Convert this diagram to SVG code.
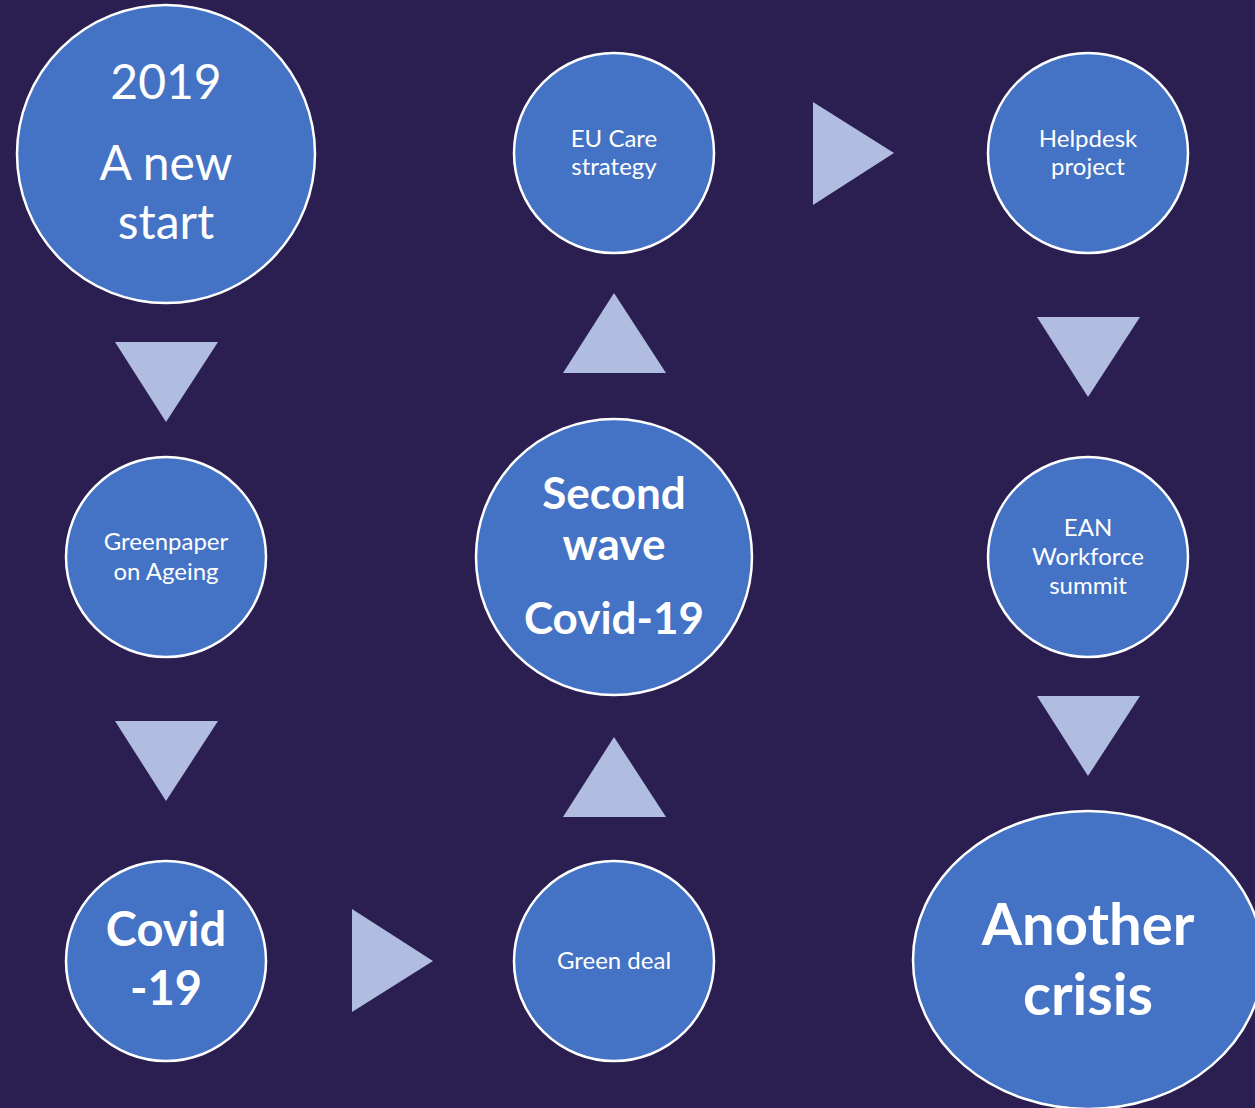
<svg xmlns="http://www.w3.org/2000/svg" width="1255" height="1108" viewBox="0 0 1255 1108">
<style>
.node{fill:#4472C4;stroke:#FFFFFF;stroke-width:2.5}
.arr{fill:#B0BDE0}
text{fill:#FFFFFF;font-family:Lato,"Open Sans","Liberation Sans",sans-serif;text-anchor:middle}
.s{font-size:24px}
.b{font-weight:bold}
</style>
<rect width="1255" height="1108" fill="#2B1E50"/>
<g id="connectors">
<polygon class="arr" points="115,342 218,342 166,422"/>
<polygon class="arr" points="115,721 218,721 166,801"/>
<polygon class="arr" points="352,909 352,1012 433,961"/>
<polygon class="arr" points="563,817 666,817 614,737"/>
<polygon class="arr" points="563,373 666,373 614,293"/>
<polygon class="arr" points="813,102 813,205 894,153"/>
<polygon class="arr" points="1037,317 1140,317 1088,397"/>
<polygon class="arr" points="1037,696 1140,696 1088,776"/>
</g>
<g id="n2019">
<circle class="node" cx="166" cy="154" r="149"/>
<text x="166" y="99" font-size="48">2019</text>
<text x="166" y="180" font-size="48">A new</text>
<text x="166" y="239" font-size="48">start</text>
</g>
<g id="greenpaper">
<circle class="node" cx="166" cy="557" r="100"/>
<text class="s" x="166" y="550">Greenpaper</text>
<text class="s" x="166" y="580">on Ageing</text>
</g>
<g id="covid">
<circle class="node" cx="166" cy="961" r="100"/>
<text class="b" x="166" y="946" font-size="47">Covid</text>
<text class="b" x="166" y="1005" font-size="47">-19</text>
</g>
<g id="greendeal">
<circle class="node" cx="614" cy="961" r="100"/>
<text class="s" x="614" y="969">Green deal</text>
</g>
<g id="secondwave">
<circle class="node" cx="614" cy="557" r="138"/>
<text class="b" x="614" y="509" font-size="44">Second</text>
<text class="b" x="614" y="560" font-size="44">wave</text>
<text class="b" x="614" y="634" font-size="44">Covid-19</text>
</g>
<g id="eucare">
<circle class="node" cx="614" cy="153" r="100"/>
<text class="s" x="614" y="147">EU Care</text>
<text class="s" x="614" y="175">strategy</text>
</g>
<g id="helpdesk">
<circle class="node" cx="1088" cy="153" r="100"/>
<text class="s" x="1088" y="147">Helpdesk</text>
<text class="s" x="1088" y="175">project</text>
</g>
<g id="ean">
<circle class="node" cx="1088" cy="557" r="100"/>
<text class="s" x="1088" y="536">EAN</text>
<text class="s" x="1088" y="565">Workforce</text>
<text class="s" x="1088" y="594">summit</text>
</g>
<g id="crisis">
<ellipse class="node" cx="1088" cy="960" rx="175" ry="149"/>
<text class="b" x="1088" y="945" font-size="58">Another</text>
<text class="b" x="1088" y="1015" font-size="58">crisis</text>
</g>
</svg>
